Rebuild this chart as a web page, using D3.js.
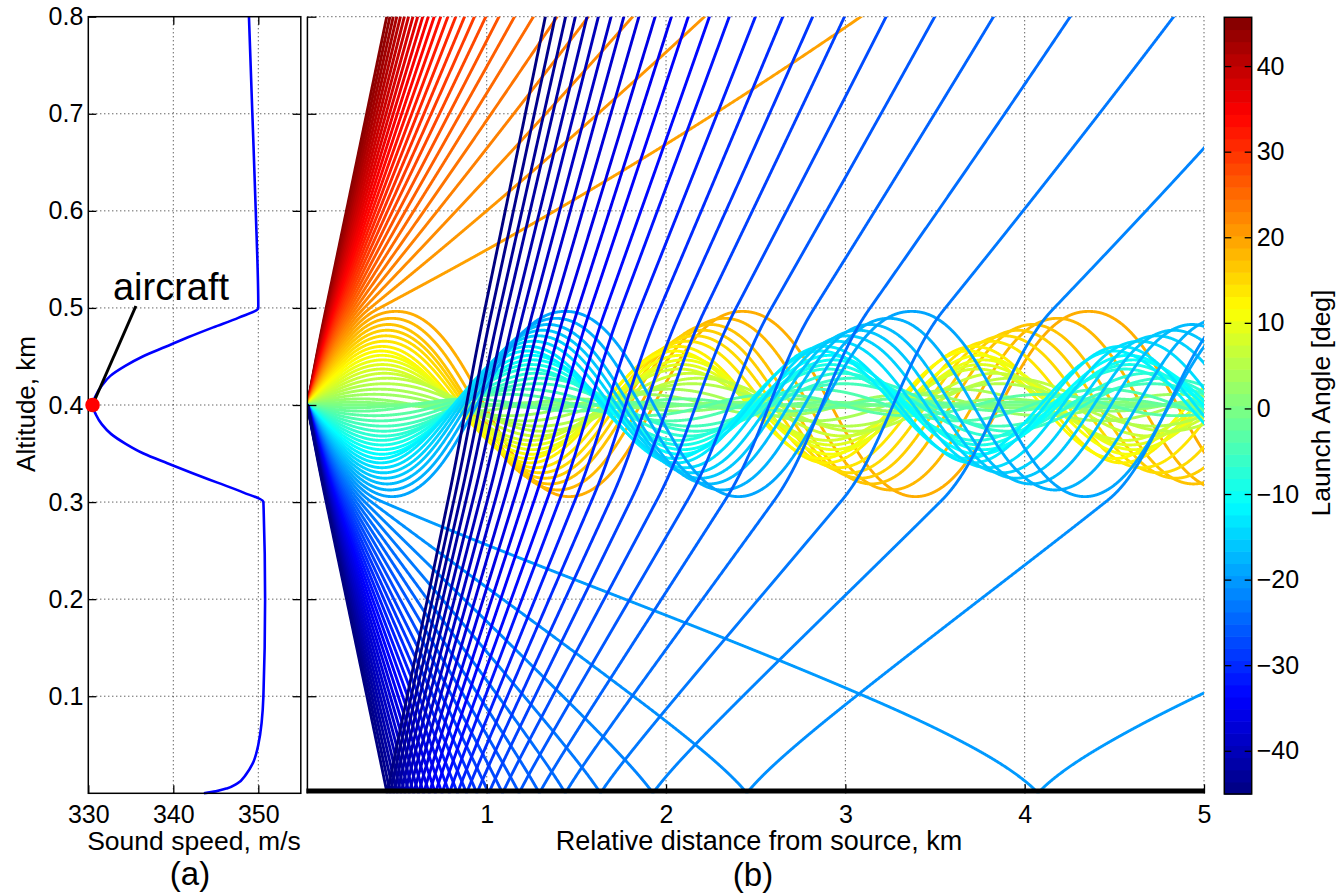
<!DOCTYPE html>
<html>
<head>
<meta charset="utf-8">
<script src="https://cdn.jsdelivr.net/npm/d3@7"></script>
<style>
    body { margin: 0; background: #fff; }
    svg { display: block; font-family: 'Liberation Sans', Arial, sans-serif; }
</style>
</head>
<body>
<svg id="chart" width="1338" height="896"></svg>
<script>
// 声速剖面 (从 panel a 读出)
const altitudeKm = [0, 0.002, 0.005, 0.01, 0.02, 0.03, 0.05, 0.1, 0.2, 0.3,
    0.31, 0.32, 0.33, 0.34, 0.35, 0.36, 0.37, 0.38, 0.39, 0.4,
    0.41, 0.42, 0.43, 0.44, 0.45, 0.46, 0.47, 0.48, 0.49, 0.5, 0.6, 0.7, 0.8]
const soundSpeed = [343.6, 345.0, 346.3, 347.5, 348.6, 349.3, 350.0, 350.6, 350.8, 350.6,
    348.2, 345.2, 342.2, 339.3, 336.5, 334.4, 332.7, 331.6, 330.9, 330.5,
    330.9, 331.6, 332.6, 334.3, 336.4, 339.1, 341.8, 344.7, 347.7, 350.0, 349.7, 349.3, 348.9]

// 发射角 (deg)
const launchAngles = [45, 44, 43, 42, 41, 40, 39, 38, 37, 36, 35, 34, 33, 32, 31, 30, 29, 28, 27, 26,
    25, 24, 23, 22, 21, 20, 19, 18, 17, 16, 15, 14, 13, 12, 11, 10, 9, 8, 7, 6, 5, 4, 3, 2, 1, 0,
    -1, -2, -3, -4, -5, -6, -7, -8, -9, -10, -11, -12, -13, -14, -15, -16, -17, -18, -19, -20,
    -21, -22, -23, -24, -25, -26, -27, -28, -29, -30, -31, -32, -33, -34, -35, -36, -37, -38, -39, -40,
    -41, -42, -43, -44, -45]

const sourceAltitude = 0.4
const speedTicks = [330, 340, 350]
const altitudeTicks = [0.1, 0.2, 0.3, 0.4, 0.5, 0.6, 0.7, 0.8]
const distanceTicks = [1, 2, 3, 4, 5]
const angleTicks = [-40, -30, -20, -10, 0, 10, 20, 30, 40]
const colorbarRange = [-45.05, 45.7]

const svg = d3.select('#chart')
const FONT = 25

// 比例尺
const y = d3.scaleLinear([0, 0.8], [793.3, 16.7])
const xa = d3.scaleLinear([330, 355], [88.3, 300.8])
const xb = d3.scaleLinear([0, 5], [307.4, 1204])
const cbY = d3.scaleLinear(colorbarRange, [794, 17.3])

// jet colormap
const jet = d3.scaleLinear()
    .domain([0, 0.125, 0.375, 0.625, 0.875, 1])
    .range(['#000080', '#0000ff', '#00ffff', '#ffff00', '#ff0000', '#800000'])
const angleColor = (a) => jet((a - colorbarRange[0]) / (colorbarRange[1] - colorbarRange[0]))

// 单调三次插值 c(z) 及导数
function makeProfile(zs, cs) {
    const n = zs.length
    const h = [], d = []
    for (let i = 0; i < n - 1; i++) {
        h[i] = zs[i + 1] - zs[i]
        d[i] = (cs[i + 1] - cs[i]) / h[i]
    }
    const m = new Array(n)
    m[0] = d[0]
    m[n - 1] = d[n - 2]
    for (let i = 1; i < n - 1; i++) {
        if (d[i - 1] * d[i] <= 0) m[i] = 0
        else {
            const w1 = 2 * h[i] + h[i - 1], w2 = h[i] + 2 * h[i - 1]
            m[i] = (w1 + w2) / (w1 / d[i - 1] + w2 / d[i])
        }
    }
    return function (z) {
        let i = d3.bisectRight(zs, z) - 1
        i = Math.max(0, Math.min(n - 2, i))
        const t = (z - zs[i]) / h[i]
        const t2 = t * t, t3 = t2 * t
        const c = (2 * t3 - 3 * t2 + 1) * cs[i] + (t3 - 2 * t2 + t) * h[i] * m[i] +
            (-2 * t3 + 3 * t2) * cs[i + 1] + (t3 - t2) * h[i] * m[i + 1]
        const dc = ((6 * t2 - 6 * t) * cs[i] + (-6 * t2 + 6 * t) * cs[i + 1]) / h[i] +
            (3 * t2 - 4 * t + 1) * m[i] + (3 * t2 - 2 * t) * m[i + 1]
        return [c, dc]
    }
}
const profile = makeProfile(altitudeKm, soundSpeed)

// 射线追踪 (地面反射)
function traceRay(angleDeg) {
    let x = 0, z = sourceAltitude, th = angleDeg * Math.PI / 180
    const pts = [[x, z]]
    const ds = 0.001
    const bend = (zz, tt) => {
        const [c, dc] = profile(zz)
        return -Math.cos(tt) / c * dc
    }
    for (let k = 0; k < 12000; k++) {
        const k1 = bend(z, th)
        const zm = z + 0.5 * ds * Math.sin(th), thm = th + 0.5 * ds * k1
        const k2 = bend(Math.max(zm, 0), thm)
        const xp = x, zp = z
        x += ds * Math.cos(thm)
        z += ds * Math.sin(thm)
        th += ds * k2
        if (z < 0) {
            const f = zp / (zp - z)
            pts.push([xp + f * (x - xp), 0])
            z = -z
            th = -th
        }
        if (k % 2 === 1) pts.push([x, z])
        if (x > 5.05 || z > 0.82) break
    }
    pts.push([x, z])
    return pts
}

// clip
svg.append('defs').append('clipPath').attr('id', 'clipB')
    .append('rect')
    .attr('x', xb(0)).attr('y', y(0.8))
    .attr('width', xb(5) - xb(0)).attr('height', y(0) - y(0.8))

const dotted = (sel) => sel.attr('stroke', '#222').attr('stroke-width', 1).attr('stroke-dasharray', '1,3')

function styleAxis(g) {
    g.select('.domain').remove()
    g.attr('font-size', FONT).attr('font-family', null)
    g.selectAll('.tick line').attr('stroke', '#000').attr('stroke-width', 1.3)
    g.selectAll('.tick text').attr('fill', '#000')
}

// ---------- panel (a) ----------
const gA = svg.append('g')
gA.selectAll('.gx').data(speedTicks.slice(1)).enter().append('line')
    .attr('x1', (d) => xa(d)).attr('x2', (d) => xa(d))
    .attr('y1', y(0)).attr('y2', y(0.8)).call(dotted)
gA.selectAll('.gy').data(altitudeTicks.slice(0, -1)).enter().append('line')
    .attr('x1', xa(330)).attr('x2', xa(355))
    .attr('y1', (d) => y(d)).attr('y2', (d) => y(d)).call(dotted)

const profileLine = d3.line()
    .x((d, i) => xa(soundSpeed[i]))
    .y((d) => y(d))
    .curve(d3.curveMonotoneY)
gA.append('path')
    .attr('d', profileLine(altitudeKm))
    .attr('fill', 'none').attr('stroke', '#0000ff').attr('stroke-width', 2.6)

// 边框 + 刻度
gA.append('rect')
    .attr('x', xa(330)).attr('y', y(0.8))
    .attr('width', xa(355) - xa(330)).attr('height', y(0) - y(0.8))
    .attr('fill', 'none').attr('stroke', '#000').attr('stroke-width', 1.5)
gA.append('g').attr('transform', `translate(0,${y(0)})`)
    .call(d3.axisBottom(xa).tickValues(speedTicks).tickSize(-8).tickPadding(12)).call(styleAxis)
gA.append('g').attr('transform', `translate(0,${y(0.8)})`)
    .call(d3.axisTop(xa).tickValues(speedTicks.slice(1)).tickSize(-8).tickFormat('')).call(styleAxis)
gA.append('g').attr('transform', `translate(${xa(330)},0)`)
    .call(d3.axisLeft(y).tickValues(altitudeTicks).tickSize(-8).tickPadding(5).tickFormat(d3.format('.1f'))).call(styleAxis)
gA.append('g').attr('transform', `translate(${xa(355)},0)`)
    .call(d3.axisRight(y).tickValues(altitudeTicks.slice(0, -1)).tickSize(-8).tickFormat('')).call(styleAxis)

// aircraft 标注
const srcC = profile(sourceAltitude)[0]
gA.append('line')
    .attr('x1', xa(srcC)).attr('y1', y(sourceAltitude))
    .attr('x2', xa(335.6)).attr('y2', y(0.502))
    .attr('stroke', '#000').attr('stroke-width', 3)
gA.append('circle')
    .attr('cx', xa(srcC)).attr('cy', y(sourceAltitude)).attr('r', 7.3)
    .attr('fill', '#ff0000')
gA.append('text')
    .attr('x', xa(332.9)).attr('y', y(0.508))
    .attr('font-size', 38).text('aircraft')

// ---------- panel (b) ----------
const gB = svg.append('g')
gB.selectAll('.gx').data(distanceTicks).enter().append('line')
    .attr('x1', (d) => xb(d)).attr('x2', (d) => xb(d))
    .attr('y1', y(0)).attr('y2', y(0.8)).call(dotted)
gB.selectAll('.gy').data(altitudeTicks).enter().append('line')
    .attr('x1', xb(0)).attr('x2', xb(5))
    .attr('y1', (d) => y(d)).attr('y2', (d) => y(d)).call(dotted)

const rayLine = d3.line().x((d) => xb(d[0])).y((d) => y(d[1]))
gB.append('g').attr('clip-path', 'url(#clipB)')
    .selectAll('path').data(launchAngles).enter().append('path')
    .attr('d', (a) => rayLine(traceRay(a)))
    .attr('fill', 'none')
    .attr('stroke', (a) => angleColor(a))
    .attr('stroke-width', 2.9)
    .attr('stroke-linejoin', 'round')

gB.append('g').attr('transform', `translate(0,${y(0)})`)
    .call(d3.axisBottom(xb).tickValues(distanceTicks).tickSize(-9).tickPadding(12).tickFormat(d3.format('d'))).call(styleAxis)
gB.append('g').attr('transform', `translate(${xb(0)},0)`)
    .call(d3.axisLeft(y).tickValues(altitudeTicks).tickSize(-9).tickFormat('')).call(styleAxis)
gB.append('line')
    .attr('x1', xb(0)).attr('x2', xb(0)).attr('y1', y(0.8)).attr('y2', y(0))
    .attr('stroke', '#000').attr('stroke-width', 1.5)
// 地面
gB.append('line')
    .attr('x1', xb(0) - 1).attr('x2', xb(5) + 1).attr('y1', y(0) - 2.3).attr('y2', y(0) - 2.3)
    .attr('stroke', '#000').attr('stroke-width', 5)

// ---------- colorbar ----------
const gC = svg.append('g')
const cbX0 = 1224.3, cbX1 = 1251.7
const bands = d3.range(64)
const bandH = (colorbarRange[1] - colorbarRange[0]) / 64
gC.selectAll('rect').data(bands).enter().append('rect')
    .attr('x', cbX0)
    .attr('y', (i) => cbY(colorbarRange[0] + (i + 1) * bandH))
    .attr('width', cbX1 - cbX0)
    .attr('height', (i) => cbY(colorbarRange[0] + i * bandH) - cbY(colorbarRange[0] + (i + 1) * bandH) + 0.6)
    .attr('fill', (i) => angleColor(colorbarRange[0] + (i + 0.5) * bandH))
gC.append('rect')
    .attr('x', cbX0).attr('y', cbY(colorbarRange[1]))
    .attr('width', cbX1 - cbX0).attr('height', cbY(colorbarRange[0]) - cbY(colorbarRange[1]))
    .attr('fill', 'none').attr('stroke', '#000').attr('stroke-width', 1.5)
gC.append('g').attr('transform', `translate(${cbX1},0)`)
    .call(d3.axisRight(cbY).tickValues(angleTicks).tickSize(-7).tickPadding(5)).call(styleAxis)
gC.append('g').attr('transform', `translate(${cbX0},0)`)
    .call(d3.axisLeft(cbY).tickValues(angleTicks).tickSize(-7).tickFormat('')).call(styleAxis)

// ---------- 文字 ----------
const label = (x, yy, txt, size, rot) => {
    const t = svg.append('text')
        .attr('text-anchor', 'middle')
        .attr('font-size', size)
        .text(txt)
    if (rot) t.attr('transform', `translate(${x},${yy}) rotate(-90)`)
    else t.attr('x', x).attr('y', yy)
}
label(194, 850, 'Sound speed, m/s', 26.5)
label(190, 885, '(a)', 33)
label(759, 850, 'Relative distance from source, km', 27)
label(753, 886, '(b)', 33)
label(35, 404, 'Altitude, km', 26, true)
label(1330, 403, 'Launch Angle [deg]', 26.5, true)
</script>
</body>
</html>
